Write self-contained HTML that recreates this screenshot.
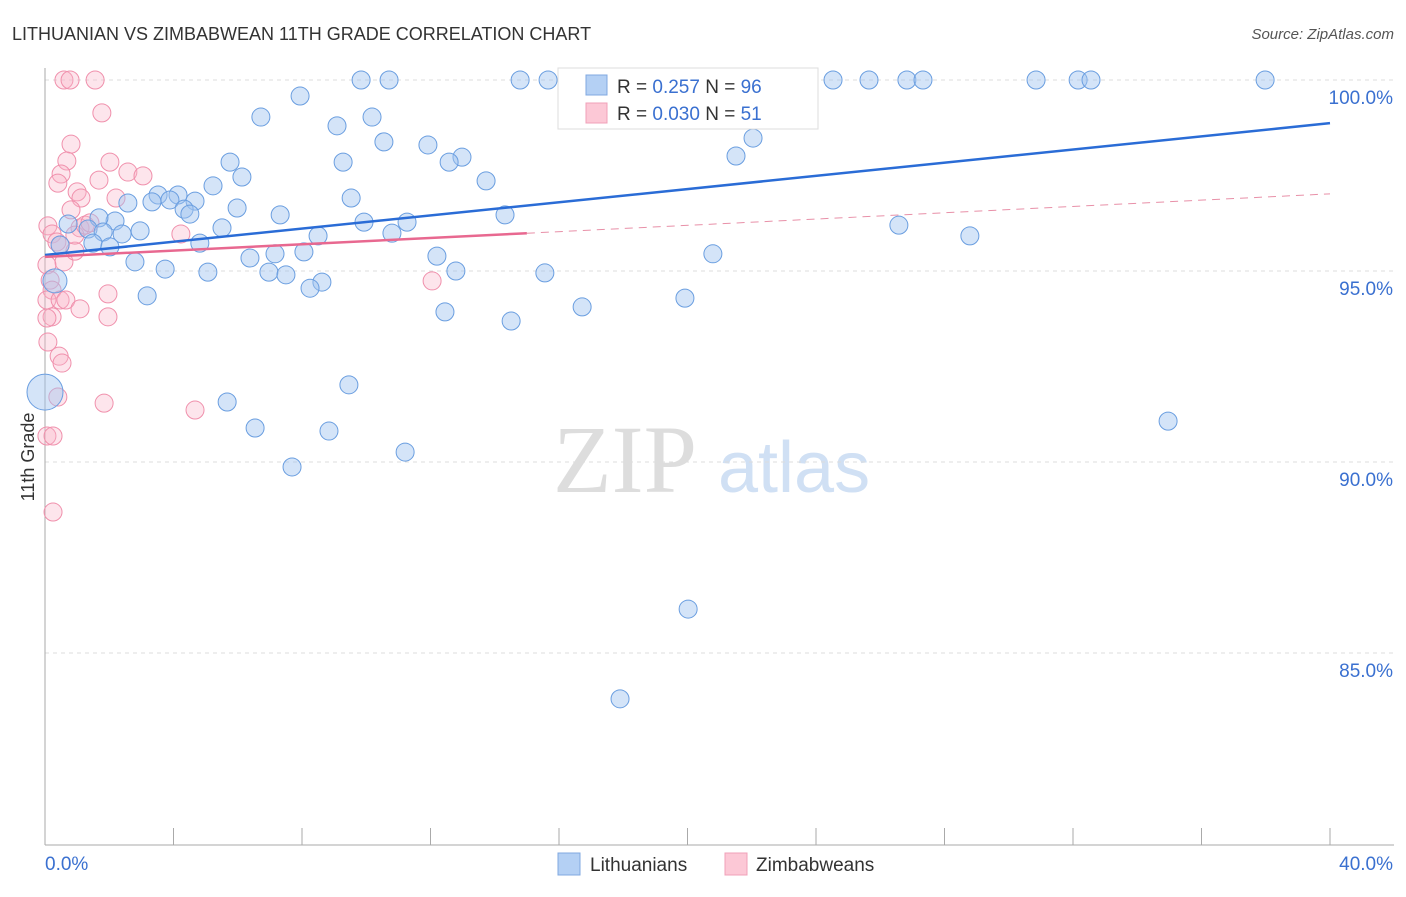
<!DOCTYPE html>
<html><head><meta charset="utf-8"><style>
body{margin:0;background:#fff;font-family:"Liberation Sans",sans-serif}
</style></head><body>
<svg id="c" width="1406" height="892" xmlns="http://www.w3.org/2000/svg" style="font-family:'Liberation Sans',sans-serif">
<text x="12" y="40" font-size="18" fill="#333">LITHUANIAN VS ZIMBABWEAN 11TH GRADE CORRELATION CHART</text>
<text x="1394" y="39" font-size="15" fill="#555" font-style="italic" text-anchor="end">Source: ZipAtlas.com</text>
<g><text x="553" y="492" font-size="96" fill="#ddd" font-family="Liberation Serif,serif">ZIP</text><text x="718" y="492" font-size="72" fill="#d0e0f4">atlas</text></g>
<g id="grid"></g>
<g id="axes"></g>
<g id="pts"></g>
<g id="trend"></g>
<text transform="translate(34,457) rotate(-90)" font-size="18" fill="#333" text-anchor="middle">11th Grade</text>
<g>
<rect x="558" y="68" width="260" height="61" fill="#fff" stroke="#ddd"/>
<rect x="586" y="75" width="21" height="20" fill="#b4d0f4" stroke="#80a8e0"/>
<text x="617" y="93" font-size="19" fill="#333">R = <tspan fill="#3a70d0">0.257</tspan>   N = <tspan fill="#3a70d0">96</tspan></text>
<rect x="586" y="103" width="21" height="20" fill="#fcc8d6" stroke="#f0a0b8"/>
<text x="617" y="120" font-size="19" fill="#333">R = <tspan fill="#3a70d0">0.030</tspan>   N = <tspan fill="#3a70d0"> 51</tspan></text>
</g>
<g>
<rect x="558" y="853" width="22" height="22" fill="#b4d0f4" stroke="#80a8e0"/>
<text x="590" y="871" font-size="19" fill="#333">Lithuanians</text>
<rect x="725" y="853" width="22" height="22" fill="#fcc8d6" stroke="#f0a0b8"/>
<text x="756" y="871" font-size="19" fill="#333">Zimbabweans</text>
</g>
</svg>
<script>
const blueX=[9.84,10.71,14.79,15.66,16.25,17.49,18.99,22.60,23.63,24.53,25.65,26.83,27.33,30.85,32.16,32.56,37.98,7.94,6.72,10.18,9.09,10.55,11.92,12.98,12.58,5.76,9.28,22.04,21.51,13.73,6.13,5.23,3.52,4.14,3.33,2.58,3.89,4.67,4.33,4.51,5.98,7.32,9.53,14.32,9.93,11.27,5.51,2.96,2.18,1.68,0.72,1.34,1.81,2.40,10.80,8.50,4.82,1.49,2.02,0.47,26.58,28.79,6.38,7.16,8.06,2.80,3.74,5.07,6.97,7.50,8.62,8.25,12.20,12.79,15.56,20.79,3.18,16.72,19.92,12.45,14.51,0.31,0,9.46,5.67,6.54,8.84,7.69,11.21,34.96,20.02,17.90];
const blueY=[100,100,100,100,100,100,100,100,100,100,100,100,100,100,100,100,100,99.58,99.03,99.03,98.80,98.38,98.30,97.98,97.85,97.85,97.85,98.48,98.01,97.36,97.46,97.23,96.99,96.99,96.81,96.78,96.86,96.83,96.62,96.49,96.65,96.47,96.91,96.47,96.28,96.28,96.13,96.05,96.31,96.39,96.23,96.10,96.02,95.97,95.99,95.92,95.73,95.73,95.63,95.68,96.20,95.92,95.34,95.45,95.50,95.24,95.05,94.97,94.97,94.90,94.71,94.55,95.39,95.00,94.95,95.45,94.35,94.06,94.29,93.93,93.69,94.74,91.83,92.02,91.57,90.89,90.81,89.87,90.26,91.07,86.15,83.80];
const blueR=blueX.map((v,i)=>i==81?12:(i==82?18:9));
const pinkX=[0.59,0.78,1.56,1.77,0.81,0.68,2.02,0.50,2.58,1.68,3.05,0.40,1.00,1.12,2.21,0.81,0.09,0.22,0.37,0.59,1.09,0.93,4.23,0.06,0.16,0.22,0.06,0.47,0.65,1.96,1.09,1.96,0.22,0.06,0.09,0.44,0.53,12.05,1.84,4.67,0.40,0.06,0.25,0.25,0.47,0.93,1.25,1.40];
const pinkY=[100,100,100,99.14,98.32,97.88,97.85,97.54,97.59,97.38,97.49,97.30,97.07,96.91,96.91,96.60,96.18,95.97,95.76,95.24,96.13,95.52,95.97,95.16,94.76,94.50,94.24,94.24,94.24,94.40,94.01,93.80,93.80,93.77,93.14,92.77,92.59,94.74,91.54,91.36,91.70,90.68,90.68,88.69,95.68,95.94,96.20,96.26];
const yTicks=[100,95,90,85];
const yTickLabels=["100.0%","95.0%","90.0%","85.0%"];
const xTicks=[0,4,8,12,16,20,24,28,32,36,40];
const blueTrend=[95.42,98.87];
const pinkTrend=[95.37,97.02];
const pinkSolidEnd=15;
const NS="http://www.w3.org/2000/svg";
const X=v=>45+v*32.125, Y=v=>80+(100-v)*38.2;
function mk(p,tag,a){const e=document.createElementNS(NS,tag);for(const k in a)e.setAttribute(k,a[k]);p.appendChild(e);return e;}
const g=document.getElementById('grid'),ax=document.getElementById('axes'),pts=document.getElementById('pts'),tr=document.getElementById('trend');
yTicks.forEach((t,i)=>{const l=mk(g,'line',{x1:45,x2:1394,y1:Y(t),y2:Y(t),stroke:'#ddd','stroke-dasharray':'4,4'});


const tx=mk(ax,'text',{x:1393,y:Y(t)+24,'font-size':19,fill:'#3a70d0','text-anchor':'end'});tx.textContent=yTickLabels[i];

});
mk(ax,'line',{x1:45,x2:45,y1:68,y2:845,stroke:'#aaa'});
mk(ax,'line',{x1:45,x2:1394,y1:845,y2:845,stroke:'#aaa'});
xTicks.forEach(t=>{const l=mk(ax,'line',{x1:X(t),x2:X(t),y1:828,y2:845,stroke:'#aaa'});

});
const x0=mk(ax,'text',{x:45,y:870,'font-size':19,fill:'#3a70d0'});x0.textContent='0.0%';


const x1=mk(ax,'text',{x:1393,y:870,'font-size':19,fill:'#3a70d0','text-anchor':'end'});x1.textContent='40.0%';


pinkX.forEach((v,i)=>{const c=mk(pts,'circle',{cx:X(v),cy:Y(pinkY[i]),r:9,fill:'rgba(248,180,200,0.35)',stroke:'#f090ac','stroke-width':1});

});
blueX.forEach((v,i)=>{const c=mk(pts,'circle',{cx:X(v),cy:Y(blueY[i]),r:blueR[i],fill:'rgba(160,196,240,0.45)',stroke:'#6a9ee0','stroke-width':1});

});
const bl=mk(tr,'line',{x1:X(0),y1:Y(blueTrend[0]),x2:X(40),y2:Y(blueTrend[1]),stroke:'#2a6cd6','stroke-width':2.5});


const pm=pinkTrend[0]+(pinkTrend[1]-pinkTrend[0])*pinkSolidEnd/40;
const pl=mk(tr,'line',{x1:X(0),y1:Y(pinkTrend[0]),x2:X(pinkSolidEnd),y2:Y(pm),stroke:'#e86890','stroke-width':2.5});


const pd=mk(tr,'line',{x1:X(pinkSolidEnd),y1:Y(pm),x2:X(40),y2:Y(pinkTrend[1]),stroke:'#e890a8','stroke-width':1,'stroke-dasharray':'8,6'});


</script>
</body></html>
